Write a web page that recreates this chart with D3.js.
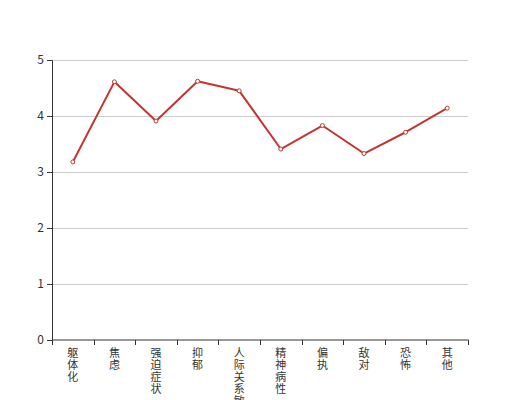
<!DOCTYPE html>
<html>
<head>
<meta charset="utf-8">
<script src="https://cdn.jsdelivr.net/npm/d3@7"></script>
<style>
  body { margin: 0; background: #fff; }
  text { font-family: "Noto Sans CJK SC", sans-serif; font-size: 12px; fill: #333; }
</style>
</head>
<body>
<div id="chart"></div>
<script>
var categories = ["躯体化", "焦虑", "强迫症状", "抑郁", "人际关系敏感", "精神病性", "偏执", "敌对", "恐怖", "其他"];
var values = [3.18, 4.61, 3.91, 4.62, 4.45, 3.41, 3.83, 3.33, 3.71, 4.14];
var yTicks = [0, 1, 2, 3, 4, 5];

var margin = { left: 52, right: 52, top: 60, bottom: 60 };
var width = 520 - margin.left - margin.right;
var height = 400 - margin.top - margin.bottom;

var svg = d3.select("#chart").append("svg")
    .attr("width", 520)
    .attr("height", 400);

var g = svg.append("g")
    .attr("transform", "translate(" + margin.left + "," + margin.top + ")");

var x = d3.scaleBand().domain(categories).range([0, width]);
var y = d3.scaleLinear().domain([0, 5]).range([height, 0]);

// grid
g.selectAll(".grid").data(yTicks.slice(1)).enter().append("line")
    .attr("x1", 0).attr("x2", width)
    .attr("y1", function(d) { return y(d) + 0.5; })
    .attr("y2", function(d) { return y(d) + 0.5; })
    .attr("stroke", "#ccc");

// y axis
var yAxis = g.append("g").call(d3.axisLeft(y).tickValues(yTicks).tickFormat(d3.format("d")).tickSize(5).tickPadding(3));
yAxis.select(".domain").attr("stroke", "#333");
yAxis.selectAll(".tick line").attr("stroke", "#333");
yAxis.selectAll("text").style("fill", "#333").style("font-size", "12px");

// x axis
var xAxis = g.append("g").attr("transform", "translate(0," + height + ")")
    .call(d3.axisBottom(x).tickSize(0).tickFormat(""));
xAxis.select(".domain").attr("stroke", "#333").attr("d", "M0.5,0H" + (width + 0.5));
var bounds = d3.range(categories.length + 1).map(function(i) { return i * x.bandwidth(); });
xAxis.selectAll(".bt").data(bounds).enter().append("line")
    .attr("x1", function(d) { return Math.round(d) + 0.5; })
    .attr("x2", function(d) { return Math.round(d) + 0.5; })
    .attr("y1", 0).attr("y2", 5)
    .attr("stroke", "#333");

// vertical labels, one character per line
var labels = g.append("g").selectAll("text").data(categories).enter().append("text")
    .attr("text-anchor", "middle")
    .style("font-size", "11px")
    .attr("transform", function(d) { return "translate(" + (x(d) + x.bandwidth() / 2) + "," + (height + 17) + ")"; });
labels.selectAll("tspan").data(function(d) { return d.split(""); }).enter().append("tspan")
    .attr("x", 0)
    .attr("dy", function(c, i) { return i === 0 ? 0 : 12; })
    .text(function(c) { return c; });

// line
var line = d3.line()
    .x(function(d, i) { return x(categories[i]) + x.bandwidth() / 2; })
    .y(function(d) { return y(d); });

g.append("path").datum(values)
    .attr("d", line)
    .attr("fill", "none")
    .attr("stroke", "#c23531")
    .attr("stroke-width", 2)
    .attr("stroke-linejoin", "bevel");

g.selectAll(".pt").data(values).enter().append("circle")
    .attr("cx", function(d, i) { return x(categories[i]) + x.bandwidth() / 2; })
    .attr("cy", function(d) { return y(d); })
    .attr("r", 2)
    .attr("fill", "#fff")
    .attr("stroke", "#c23531")
    .attr("stroke-width", 1);
</script>
</body>
</html>
